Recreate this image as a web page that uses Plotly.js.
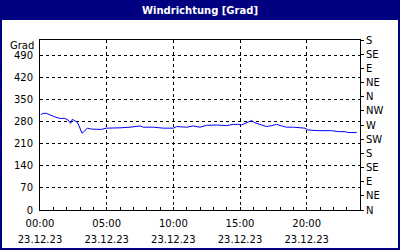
<!DOCTYPE html>
<html>
<head>
<meta charset="utf-8">
<script src="https://cdn.plot.ly/plotly-3.0.1.min.js"></script>
<style>html,body{margin:0;padding:0;background:#fff;}#chart{width:400px;height:250px;}</style>
</head>
<body>
<div id="chart"></div>
<script>
// Time in hours since 23.12.23 00:00
const hours = [0.05,0.22,0.47,0.73,1.1,1.48,1.85,2.1,2.3,2.42,2.6,2.8,2.9,3.02,3.15,3.35,3.55,3.85,4.22,4.6,4.97,5.3,5.72,6.0,6.75,7.5,7.75,8.5,9.25,10.0,10.25,11.0,11.5,12.0,12.5,13.25,14.0,14.5,14.87,15.1,15.37,15.88,16.12,16.5,17.0,17.37,17.75,18.12,18.5,19.0,19.5,19.87,20.12,20.87,21.87,22.37,22.87,23.12,23.75];
const degrees = [302,307,307,302,296,291,291,286,275,288,284,279,270,260,244,251,260,257,257,256,260,260,261,261,263,267,263,263,260,260,265,263,267,263,269,270,268,272,272,270,275,284,277,272,265,268,272,267,263,263,260,260,254,252,252,249,249,246,246];

const xTickVals = [0,5,10,15,20];
const xTimeLabels = ['00:00','05:00','10:00','15:00','20:00'];
const xDateLabels = ['23.12.23','23.12.23','23.12.23','23.12.23','23.12.23'];
const yTickVals = [0,70,140,210,280,350,420,490];
const compassVals = [0,45,90,135,180,225,270,315,360,405,450,495,540];
const compassLabels = ['N','NE','E','SE','S','SW','W','NW','N','NE','E','SE','S'];
const titleText = 'Windrichtung [Grad]';
const unitLabel = 'Grad';

const W = 400, H = 250, ML = 40, MR = 40, MT = 40, MB = 40;
const pw = W - ML - MR, ph = H - MT - MB;
const px = v => (v - ML) / pw;
const py = v => (H - MB - v) / ph;

const NAVY = '#000080';
const fnt = {family: 'DejaVu Sans, sans-serif', size: 10, color: '#000'};

const traces = [
  {x: hours, y: degrees, type: 'scatter', mode: 'lines', line: {color: '#0000ff', width: 1}, hoverinfo: 'skip', xaxis: 'x', yaxis: 'y'},
  {x: hours, y: degrees, type: 'scatter', mode: 'lines', line: {color: 'rgba(0,0,0,0)', width: 0}, hoverinfo: 'skip', xaxis: 'x2', yaxis: 'y2'}
];

const layout = {
  width: W, height: H,
  margin: {l: ML, r: MR, t: MT, b: MB, pad: 0},
  paper_bgcolor: '#fff', plot_bgcolor: '#fff',
  showlegend: false,
  font: fnt,
  title: {text: titleText, font: {family: 'DejaVu Sans, sans-serif', size: 10, color: '#fff', weight: 'bold'},
          x: 0.5, xref: 'container', xanchor: 'center', y: 1 - 10/H, yref: 'container', yanchor: 'middle'},
  xaxis: {range: [0, 24], tickvals: xTickVals, ticktext: xTimeLabels, ticks: 'inside', ticklen: 3, tickcolor: '#000',
          showline: true, linecolor: '#000', linewidth: 1, mirror: true, showgrid: true, gridcolor: '#000', griddash: '3px,3px', gridwidth: 1,
          zeroline: false, tickfont: fnt, ticklabelstandoff: 4,
          minor: {dtick: 1, tick0: 0, ticks: 'inside', ticklen: 3, tickcolor: '#000', showgrid: false}, fixedrange: true},
  xaxis2: {range: [0, 24], overlaying: 'x', side: 'bottom', anchor: 'y2', tickvals: xTickVals, ticktext: xDateLabels, ticks: '',
           showline: false, showgrid: false, zeroline: false, tickfont: fnt, ticklabelstandoff: 22, fixedrange: true},
  yaxis: {range: [0, 540], tickvals: yTickVals, ticks: '', showline: true, linecolor: '#000', linewidth: 1,
          showgrid: true, gridcolor: '#000', griddash: '3px,3px', gridwidth: 1, zeroline: false, tickfont: fnt, ticklabelstandoff: 4, fixedrange: true},
  yaxis2: {range: [0, 540], overlaying: 'y', side: 'right', anchor: 'x2', tickvals: compassVals, ticktext: compassLabels,
           ticks: 'outside', ticklen: 3, tickcolor: '#000', showline: true, linecolor: '#000', linewidth: 1,
           showgrid: false, zeroline: false, tickfont: fnt, ticklabelstandoff: 0, fixedrange: true},
  annotations: [
    {text: unitLabel, xref: 'paper', yref: 'paper', x: 0, y: 1, xanchor: 'right', yanchor: 'middle', xshift: -4, yshift: -5,
     showarrow: false, font: fnt}
  ],
  shapes: [
    {type: 'rect', xref: 'paper', yref: 'paper', x0: px(0), x1: px(W), y0: py(0), y1: py(20), fillcolor: NAVY, line: {width: 0}, layer: 'below'},
    {type: 'rect', xref: 'paper', yref: 'paper', x0: px(1), x1: px(W - 1), y0: py(1), y1: py(H - 1), fillcolor: 'rgba(0,0,0,0)', line: {color: NAVY, width: 2}, layer: 'below'}
  ]
};

Plotly.newPlot('chart', traces, layout, {staticPlot: true, displayModeBar: false});
</script>
</body>
</html>
